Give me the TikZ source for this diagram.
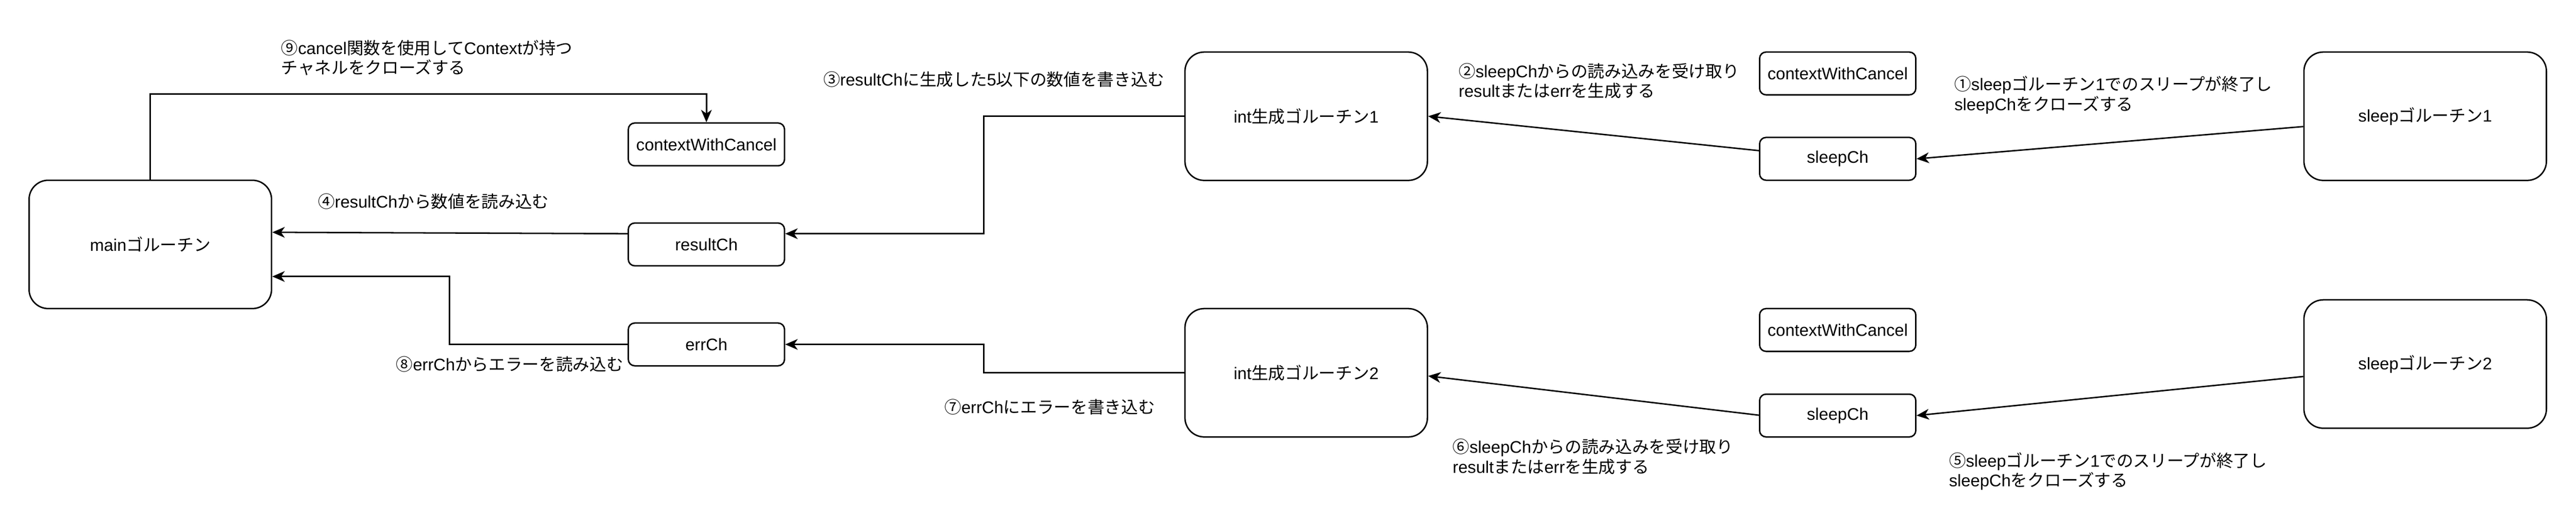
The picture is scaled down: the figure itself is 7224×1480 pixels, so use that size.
\documentclass[tikz,border=0pt]{standalone}
\usepackage{fontspec}
\setmainfont{Liberation Sans}
\newfontfamily\jpfont{Noto Sans CJK JP}
\usetikzlibrary{arrows.meta,calc}

\begin{document}
\begin{tikzpicture}[x=0.25pt,y=-0.25pt, % 1単位 = 元画像の1px
  font=\fontsize{11.8pt}{14pt}\selectfont,
  goroutine/.style={draw,line width=1pt,rounded corners=13.5pt,
    minimum width=170pt,minimum height=90pt,align=center},
  chan/.style={draw,line width=1pt,rounded corners=4.5pt,
    minimum width=109.5pt,minimum height=30pt},
  memo/.style={anchor=west,align=left,inner sep=0pt},
  flow/.style={line width=1pt,-{Stealth[length=8.75pt,width=7.5pt,inset=2.6pt]}},
]
  \useasboundingbox (0,0) rectangle (7224,1480);
  % ゴルーチン
  \node[goroutine] (main) at (421.5,685.5) {main{\jpfont ゴルーチン}};
  \node[goroutine] (intA) at (3663,326) {int{\jpfont 生成ゴルーチン}1};
  \node[goroutine] (intB) at (3663,1045.5) {int{\jpfont 生成ゴルーチン}2};
  \node[goroutine] (sleepA) at (6801,326) {sleep{\jpfont ゴルーチン}1};
  \node[goroutine] (sleepB) at (6801,1021) {sleep{\jpfont ゴルーチン}2};
  % チャネル
  \node[chan] (ctxA) at (1981,405) {contextWithCancel};
  \node[chan] (resultCh) at (1981,685.5) {resultCh};
  \node[chan] (errCh) at (1981,966) {errCh};
  \node[chan] (ctxB) at (5153.5,206) {contextWithCancel};
  \node[chan] (sleepChA) at (5153.5,445.5) {sleepCh};
  \node[chan] (ctxC) at (5153.5,925.5) {contextWithCancel};
  \node[chan] (sleepChB) at (5153.5,1165.5) {sleepCh};
  % 矢印
  \draw[flow] ($(sleepA.west)+(0,29)$) -- (sleepChA.east);
  \draw[flow] ($(sleepChA.west)+(0,-23)$) -- (intA.east);
  \draw[flow] (intA.west) -- ++(-562,0) |- ($(resultCh.east)+(0,-30)$);
  \draw[flow] ($(resultCh.west)+(0,-30)$) -- ($(main.east)+(0,-34)$);
  \draw[flow] ($(sleepB.west)+(0,35)$) -- (sleepChB.east);
  \draw[flow] ($(sleepChB.west)+(0,-1)$) -- ($(intB.east)+(0,9)$);
  \draw[flow] (intB.west) -- ++(-562,0) |- (errCh.east);
  \draw[flow] (errCh.west) -- ++(-499,0) |- ($(main.east)+(0,90)$);
  \draw[flow] (main.north) -- ++(0,-240) -| (ctxA.north);
  % 説明
  \node[memo] (note1) at (5480,267) {{\jpfont ①}sleep{\jpfont ゴルーチン}1{\jpfont でのスリープが終了し}\\sleepCh{\jpfont をクローズする}};
  \node[memo] (note2) at (4090,227) {{\jpfont ②}sleepCh{\jpfont からの読み込みを受け取り}\\result{\jpfont または}err{\jpfont を生成する}};
  \node[memo] (note3) at (2308,222) {{\jpfont ③}resultCh{\jpfont に生成した}5{\jpfont 以下の数値を書き込む}};
  \node[memo] (note4) at (891,565) {{\jpfont ④}resultCh{\jpfont から数値を読み込む}};
  \node[memo] (note5) at (5465,1322) {{\jpfont ⑤}sleep{\jpfont ゴルーチン}1{\jpfont でのスリープが終了し}\\sleepCh{\jpfont をクローズする}};
  \node[memo] (note6) at (4073,1281) {{\jpfont ⑥}sleepCh{\jpfont からの読み込みを受け取り}\\result{\jpfont または}err{\jpfont を生成する}};
  \node[memo] (note7) at (2648,1142) {{\jpfont ⑦}errCh{\jpfont にエラーを書き込む}};
  \node[memo] (note8) at (1110,1021) {{\jpfont ⑧}errCh{\jpfont からエラーを読み込む}};
  \node[memo] (note9) at (788,162) {{\jpfont ⑨}cancel{\jpfont 関数を使用して}Context{\jpfont が持つ}\\{\jpfont チャネルをクローズする}};
\end{tikzpicture}
\end{document}
